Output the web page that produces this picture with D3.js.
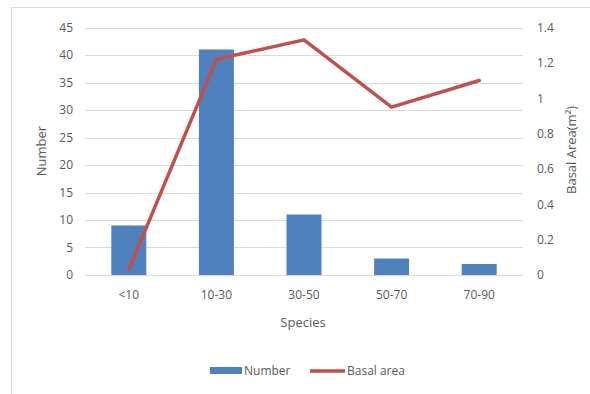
<!DOCTYPE html>
<html><head><meta charset="utf-8">
<script src="https://cdn.jsdelivr.net/npm/d3@7"></script>
<style>body{margin:0;background:#fff}svg text{font-family:"Open Sans",sans-serif;fill:#595959}</style>
</head><body><svg id="c" width="590" height="394"></svg>
<script>
const categories = ["<10","10-30","30-50","50-70","70-90"];
const numberValues = [9,41,11,3,2];
const basalValues = [0.03,1.22,1.33,0.95,1.10];
const leftTicks = [0,5,10,15,20,25,30,35,40,45];
const rightTicks = [0,0.2,0.4,0.6,0.8,1,1.2,1.4];

const svg = d3.select("#c");
svg.append("rect").attr("x",11.5).attr("y",7.5).attr("width",620).attr("height",420)
  .attr("fill","#fff").attr("stroke","#d9d9d9");

const L=85,R=523,T=27.5,B=275;
const xc = d3.scaleBand().domain(categories).range([L,R]);
const y = d3.scaleLinear().domain([0,45]).range([B,T]);
const y2 = d3.scaleLinear().domain([0,1.4]).range([B,T]);

// grid
svg.append("g").selectAll("line").data(leftTicks).join("line")
  .attr("x1",L).attr("x2",R).attr("y1",d=>Math.round(y(d))+0.5).attr("y2",d=>Math.round(y(d))+0.5)
  .attr("stroke","#d9d9d9").attr("stroke-width",1);

// left axis
const ga = svg.append("g").attr("transform",`translate(${L},0)`)
  .call(d3.axisLeft(y).tickValues(leftTicks).tickSize(0).tickPadding(12));
ga.select(".domain").remove();
ga.selectAll("text").style("font-size","12px");

// right axis
const gr = svg.append("g").attr("transform",`translate(${R},0)`)
  .call(d3.axisRight(y2).tickValues(rightTicks).tickSize(0).tickPadding(14).tickFormat(d=>String(+d.toFixed(1))));
gr.select(".domain").remove();
gr.selectAll("text").style("font-size","12px");

// x axis
const gx = svg.append("g").attr("transform",`translate(0,${B})`)
  .call(d3.axisBottom(xc).tickSize(0).tickPadding(15));
gx.select(".domain").remove();
gx.selectAll("text").style("font-size","12px");

// bars
const bw = 35;
svg.append("g").selectAll("rect").data(categories).join("rect")
  .attr("x",(d)=>xc(d)+xc.bandwidth()/2-bw/2).attr("width",bw)
  .attr("y",(d,i)=>y(numberValues[i])).attr("height",(d,i)=>B-y(numberValues[i]))
  .attr("fill","#4f81bd");

// line
const line = d3.line().x((d,i)=>xc(categories[i])+xc.bandwidth()/2).y(d=>y2(d));
svg.append("path").datum(basalValues).attr("d",line).attr("fill","none")
  .attr("stroke","#c0504d").attr("stroke-width",3.5).attr("stroke-linejoin","round").attr("stroke-linecap","round");

// axis titles
svg.append("text").attr("transform","translate(46,151) rotate(-90)").attr("text-anchor","middle")
  .style("font-size","13px").text("Number");
svg.append("text").attr("transform","translate(576,150) rotate(-90)").attr("text-anchor","middle")
  .style("font-size","13px").text("Basal Area(m²)");
svg.append("text").attr("x",303).attr("y",327).attr("text-anchor","middle")
  .style("font-size","13px").text("Species");

// legend
const lg = svg.append("g");
lg.append("rect").attr("x",210).attr("y",367).attr("width",32).attr("height",7).attr("fill","#4f81bd");
lg.append("text").attr("x",244).attr("y",375).style("font-size","12px").text("Number");
lg.append("line").attr("x1",310).attr("x2",345).attr("y1",371).attr("y2",371)
  .attr("stroke","#c0504d").attr("stroke-width",3.5);
lg.append("text").attr("x",347).attr("y",375).style("font-size","12px").text("Basal area");
</script></body></html>
